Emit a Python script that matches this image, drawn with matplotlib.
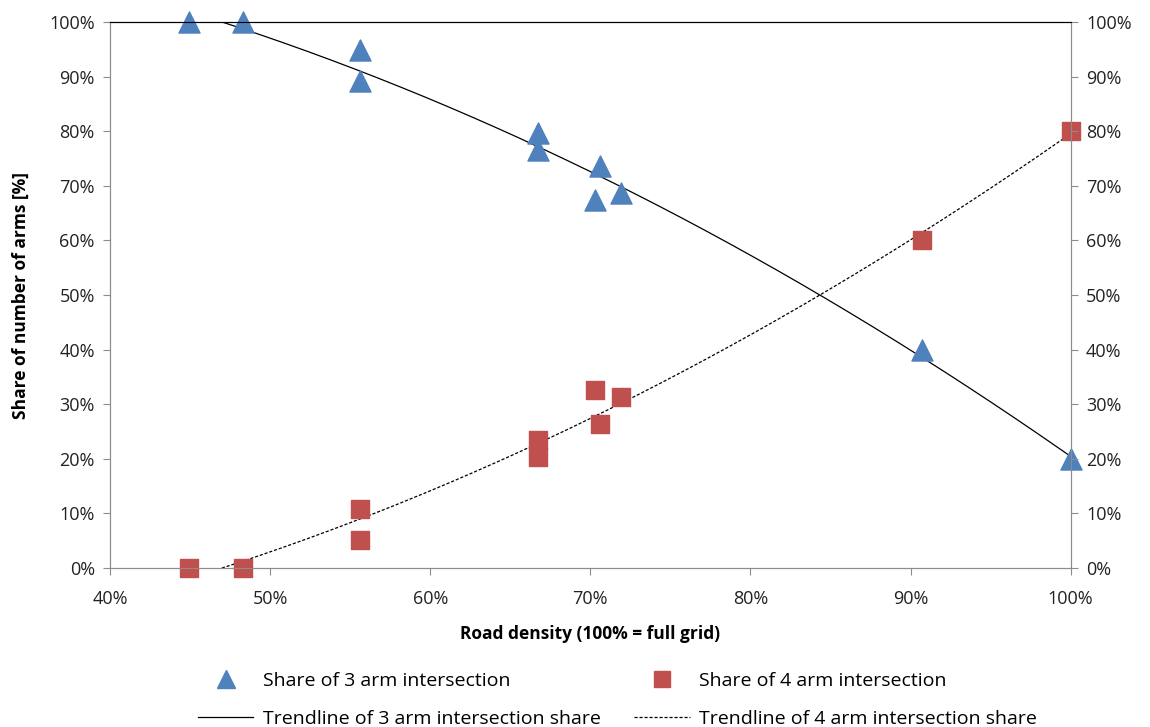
import numpy as np
import matplotlib
matplotlib.use('Agg')
import matplotlib.pyplot as plt
from matplotlib.ticker import PercentFormatter
from matplotlib.lines import Line2D

plt.rcParams['font.family'] = ['Open Sans', 'DejaVu Sans']

# road density (%) and share of intersections by number of arms (%)
density = [44.9, 48.3, 55.6, 55.6, 66.7, 66.7, 70.3, 70.6, 71.9, 90.7, 100.0]
share_3arm = [100.0, 100.0, 94.9, 89.2, 79.6, 76.6, 67.4, 73.6, 68.7, 40.0, 20.0]
share_4arm = [0.0, 0.0, 5.1, 10.8, 20.4, 23.4, 32.6, 26.4, 31.3, 60.0, 80.0]

x_ticks = [40, 50, 60, 70, 80, 90, 100]
y_ticks = [0, 10, 20, 30, 40, 50, 60, 70, 80, 90, 100]

blue = '#4F81BD'
red = '#C0504D'
grey = '#8C8C8C'

fig = plt.figure(figsize=(11.5, 7.27), dpi=100)
ax = fig.add_axes([0.0957, 0.2187, 0.8353, 0.751])

# polynomial (order 2) trendlines, like the spreadsheet ones
xs = np.linspace(min(density), max(density), 300)
fit3 = np.polyfit(density, share_3arm, 2)
fit4 = np.polyfit(density, share_4arm, 2)
ax.plot(xs, np.polyval(fit3, xs), color='black', lw=0.9, zorder=2)
ax.plot(xs, np.polyval(fit4, xs), color='black', lw=0.9, ls=(0, (2.5, 1.5)), zorder=2)

ax.scatter(density, share_3arm, marker='^', s=230, color=blue, zorder=3, clip_on=False)
ax.scatter(density, share_4arm, marker='s', s=170, color=red, zorder=3, clip_on=False)

ax.set_xlim(40, 100)
ax.set_ylim(0, 100)
ax.set_xticks(x_ticks)
ax.set_yticks(y_ticks)
ax.xaxis.set_major_formatter(PercentFormatter(decimals=0))
ax.yaxis.set_major_formatter(PercentFormatter(decimals=0))
ax.tick_params(direction='out', length=5, color=grey, labelsize=13, labelcolor='#222222', pad=6)
ax.tick_params(axis='x', pad=11)

ax2 = ax.twinx()
ax2.set_ylim(0, 100)
ax2.set_yticks(y_ticks)
ax2.yaxis.set_major_formatter(PercentFormatter(decimals=0))
ax2.tick_params(direction='out', length=5, color=grey, labelsize=13, labelcolor='#222222', pad=6)

for a in (ax, ax2):
    for side in ['left', 'right', 'bottom']:
        a.spines[side].set_color(grey)
    a.spines['top'].set_color('black')

ax.set_xlabel('Road density (100% = full grid)', fontsize=12.5, fontweight='bold', labelpad=12)
ax.set_ylabel('Share of number of arms [%]', fontsize=12.5, fontweight='bold', labelpad=14)

handles = [
    Line2D([], [], marker='^', color=blue, ls='none', markersize=13),
    Line2D([], [], color='black', lw=0.9),
    Line2D([], [], marker='s', color=red, ls='none', markersize=12),
    Line2D([], [], color='black', lw=0.9, ls=(0, (2.5, 1.5))),
]
labels = ['Share of 3 arm intersection', 'Trendline of 3 arm intersection share',
          'Share of 4 arm intersection', 'Trendline of 4 arm intersection share']
fig.legend(handles, labels, ncol=2, loc='upper left', bbox_to_anchor=(0.157, 0.1),
           frameon=False, fontsize=14, columnspacing=1.7, handlelength=2.85,
           labelspacing=1.05, handletextpad=0.5)

fig.savefig('out.png', dpi=100)
